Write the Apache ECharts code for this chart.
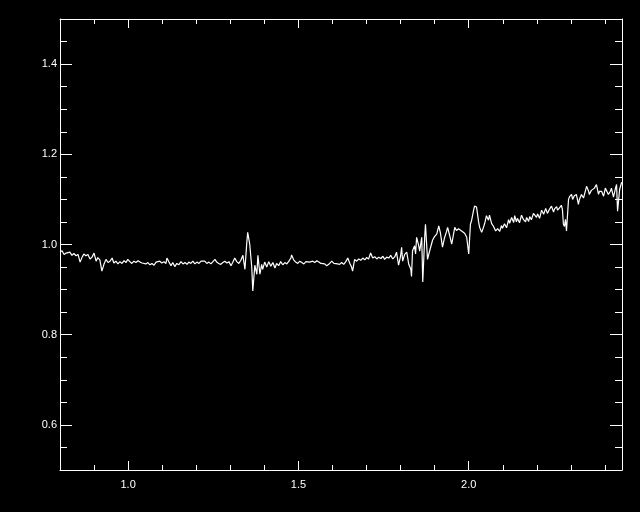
<!DOCTYPE html>
<html>
<head>
<meta charset="utf-8">
<script src="https://cdn.jsdelivr.net/npm/echarts@6/dist/echarts.min.js"></script>
<style>
html,body{margin:0;padding:0;background:#000;}
#chart{width:640px;height:512px;}
</style>
</head>
<body>
<div id="chart"></div>
<script>
var wavelength = [
0.800,0.806,0.812,0.818,0.823,0.829,0.835,0.841,0.847,0.853,0.859,0.865,0.870,0.876,0.882,0.888,0.894,0.900,0.906,0.911,
0.917,0.923,0.929,0.935,0.941,0.947,0.953,0.958,0.964,0.970,0.976,0.982,0.988,0.994,0.999,1.005,1.011,1.017,1.023,1.029,
1.035,1.041,1.046,1.052,1.058,1.064,1.070,1.076,1.082,1.087,1.093,1.099,1.105,1.111,1.114,1.120,1.126,1.131,1.137,1.143,
1.149,1.155,1.161,1.167,1.173,1.178,1.184,1.190,1.196,1.202,1.208,1.214,1.219,1.225,1.231,1.237,1.243,1.249,1.255,1.260,
1.266,1.272,1.278,1.284,1.290,1.296,1.302,1.307,1.313,1.319,1.325,1.331,1.337,1.343,1.348,1.351,1.357,1.363,1.366,1.372,
1.378,1.381,1.387,1.392,1.395,1.401,1.407,1.413,1.419,1.425,1.431,1.436,1.442,1.448,1.454,1.460,1.466,1.472,1.478,1.480,
1.486,1.492,1.498,1.504,1.510,1.516,1.522,1.527,1.533,1.542,1.548,1.554,1.560,1.566,1.571,1.577,1.583,1.589,1.598,1.604,
1.609,1.615,1.621,1.627,1.633,1.639,1.645,1.651,1.656,1.659,1.665,1.671,1.677,1.683,1.689,1.695,1.700,1.706,1.712,1.718,
1.724,1.730,1.736,1.742,1.748,1.753,1.759,1.765,1.771,1.777,1.783,1.788,1.794,1.800,1.803,1.806,1.812,1.818,1.824,1.830,
1.832,1.835,1.841,1.844,1.847,1.853,1.856,1.862,1.865,1.871,1.873,1.879,1.885,1.894,1.900,1.906,1.912,1.917,1.923,1.929,
1.935,1.938,1.944,1.950,1.956,1.959,1.964,1.970,1.973,1.979,1.982,1.988,1.994,2.000,2.005,2.008,2.014,2.017,2.023,2.029,
2.032,2.038,2.041,2.047,2.052,2.058,2.061,2.067,2.073,2.079,2.085,2.091,2.096,2.099,2.105,2.111,2.117,2.120,2.126,2.132,
2.135,2.140,2.143,2.149,2.155,2.161,2.167,2.170,2.176,2.179,2.184,2.190,2.193,2.199,2.202,2.208,2.214,2.220,2.226,2.228,
2.231,2.237,2.243,2.249,2.252,2.258,2.261,2.267,2.272,2.275,2.278,2.281,2.284,2.287,2.293,2.296,2.302,2.305,2.310,2.316,
2.322,2.325,2.331,2.337,2.340,2.346,2.352,2.354,2.360,2.363,2.369,2.375,2.381,2.384,2.390,2.396,2.401,2.404,2.410,2.416,
2.419,2.425,2.431,2.434,2.437,2.443,2.449
];
var flux = [
0.983,0.986,0.978,0.981,0.979,0.983,0.976,0.980,0.975,0.978,0.961,0.972,0.979,0.975,0.978,0.968,0.972,0.981,0.963,0.971,
0.966,0.941,0.956,0.967,0.960,0.963,0.970,0.959,0.963,0.957,0.962,0.958,0.964,0.960,0.967,0.962,0.958,0.963,0.960,0.964,
0.961,0.959,0.962,0.957,0.960,0.955,0.958,0.954,0.961,0.957,0.963,0.959,0.962,0.958,0.970,0.961,0.953,0.960,0.951,0.958,
0.955,0.962,0.957,0.960,0.956,0.961,0.958,0.963,0.957,0.961,0.958,0.963,0.959,0.963,0.958,0.961,0.957,0.962,0.967,0.961,
0.958,0.956,0.960,0.963,0.959,0.962,0.953,0.960,0.970,0.962,0.958,0.965,0.976,0.945,1.000,1.027,1.001,0.950,0.897,0.954,
0.934,0.976,0.934,0.956,0.945,0.961,0.950,0.962,0.952,0.960,0.948,0.958,0.953,0.962,0.955,0.960,0.957,0.963,0.970,0.977,
0.966,0.961,0.958,0.963,0.960,0.957,0.962,0.958,0.961,0.963,0.960,0.964,0.961,0.958,0.954,0.957,0.953,0.956,0.963,0.958,
0.962,0.957,0.956,0.960,0.956,0.962,0.970,0.958,0.950,0.941,0.967,0.963,0.968,0.965,0.970,0.966,0.971,0.968,0.981,0.970,
0.973,0.968,0.972,0.969,0.974,0.967,0.972,0.970,0.976,0.968,0.973,0.983,0.954,0.975,0.994,0.963,0.978,0.983,0.956,0.945,
0.929,0.986,0.997,0.979,1.016,0.998,0.985,1.016,0.917,1.020,1.045,0.967,0.985,1.010,1.018,1.023,1.041,1.025,0.994,1.015,
1.029,1.038,1.020,1.001,1.025,1.038,1.031,1.035,1.034,1.030,1.031,1.025,1.016,0.979,1.045,1.052,1.075,1.085,1.083,1.050,
1.038,1.027,1.033,1.047,1.064,1.054,1.065,1.047,1.040,1.030,1.035,1.029,1.042,1.036,1.046,1.037,1.055,1.047,1.060,1.049,
1.064,1.050,1.058,1.048,1.065,1.055,1.050,1.060,1.051,1.062,1.055,1.069,1.072,1.060,1.068,1.058,1.076,1.067,1.080,1.084,
1.069,1.078,1.085,1.072,1.079,1.084,1.076,1.082,1.087,1.078,1.045,1.040,1.056,1.030,1.100,1.106,1.111,1.100,1.108,1.111,
1.089,1.100,1.111,1.103,1.104,1.129,1.118,1.111,1.120,1.118,1.125,1.133,1.111,1.118,1.118,1.107,1.125,1.129,1.111,1.118,
1.125,1.105,1.125,1.133,1.074,1.122,1.138
];
var xMajorTicks = [1.0, 1.5, 2.0];
var xMinorTicks = [0.9, 1.1, 1.2, 1.3, 1.4, 1.6, 1.7, 1.8, 1.9, 2.1, 2.2, 2.3, 2.4];
var yMajorTicks = [0.6, 0.8, 1.0, 1.2, 1.4];
var yMinorTicks = [0.55, 0.65, 0.7, 0.75, 0.85, 0.9, 0.95, 1.05, 1.1, 1.15, 1.25, 1.3, 1.35, 1.45];
var xRange = [0.8, 2.45];
var yRange = [0.5, 1.5];

var points = wavelength.map(function (w, i) { return [w, flux[i]]; });

var labelStyle = { color: '#ffffff', fontFamily: 'Liberation Sans, Arial, sans-serif', fontSize: 11 };
var lineStyle = { color: '#ffffff', width: 1 };

function xAxisDef(position, ticks, len, showLabel, showLine) {
  return {
    type: 'value', position: position, min: xRange[0], max: xRange[1],
    axisLine: { show: showLine, onZero: false, lineStyle: lineStyle },
    axisTick: { show: true, inside: true, length: len, customValues: ticks, lineStyle: lineStyle },
    axisLabel: { show: showLabel, customValues: ticks, margin: 9, formatter: function (v) { return v.toFixed(1); }, color: labelStyle.color, fontFamily: labelStyle.fontFamily, fontSize: labelStyle.fontSize },
    splitLine: { show: false }
  };
}
function yAxisDef(position, ticks, len, showLabel, showLine) {
  return {
    type: 'value', position: position, min: yRange[0], max: yRange[1],
    axisLine: { show: showLine, onZero: false, lineStyle: lineStyle },
    axisTick: { show: true, inside: true, length: len, customValues: ticks, lineStyle: lineStyle },
    axisLabel: { show: showLabel, customValues: ticks, margin: 3, formatter: function (v) { return v.toFixed(1); }, color: labelStyle.color, fontFamily: labelStyle.fontFamily, fontSize: labelStyle.fontSize },
    splitLine: { show: false }
  };
}

var chart = echarts.init(document.getElementById('chart'), null, { renderer: 'canvas' });
chart.setOption({
  backgroundColor: '#000000',
  animation: false,
  grid: { left: 60, top: 19, right: 18, bottom: 42, containLabel: false },
  xAxis: [
    xAxisDef('bottom', xMajorTicks, 9, true, true),
    xAxisDef('bottom', xMinorTicks, 5, false, false),
    xAxisDef('top', xMajorTicks, 9, false, true),
    xAxisDef('top', xMinorTicks, 5, false, false)
  ],
  yAxis: [
    yAxisDef('left', yMajorTicks, 12, true, true),
    yAxisDef('left', yMinorTicks, 7, false, false),
    yAxisDef('right', yMajorTicks, 12, false, true),
    yAxisDef('right', yMinorTicks, 7, false, false)
  ],
  series: [{
    type: 'line',
    xAxisIndex: 0,
    yAxisIndex: 0,
    data: points,
    showSymbol: false,
    symbol: 'none',
    lineStyle: { color: '#ffffff', width: 1.2 },
    silent: true
  }]
});
</script>
</body>
</html>
